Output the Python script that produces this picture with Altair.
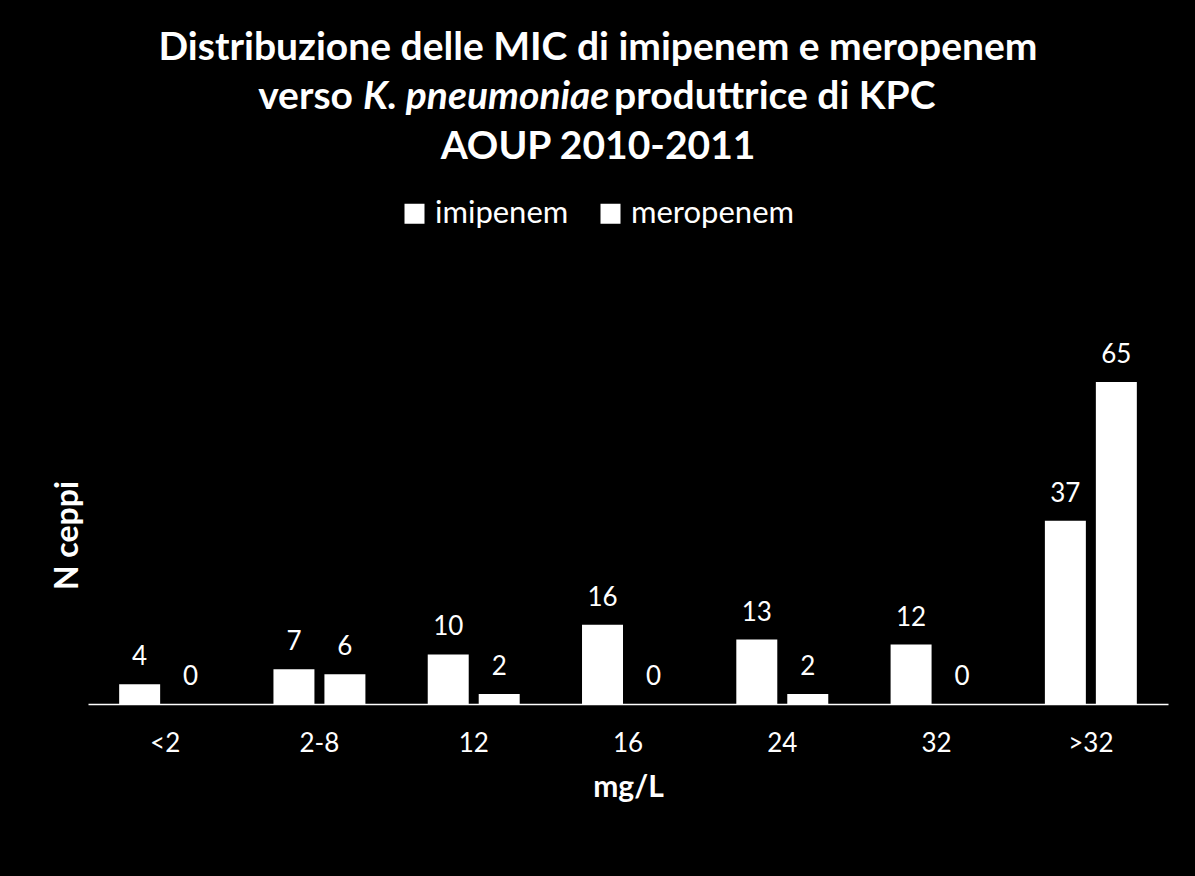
import altair as alt
import pandas as pd

categories = ["<2", "2-8", "12", "16", "24", "32", ">32"]
series = ["imipenem", "meropenem"]
imipenem = [4, 7, 10, 16, 13, 12, 37]
meropenem = [0, 6, 2, 0, 2, 0, 65]

title_line1 = "Distribuzione delle MIC di imipenem e meropenem"
title_line2a = "verso"
title_line2b = "K. pneumoniae"
title_line2c = "produttrice di KPC"
title_line3 = "AOUP 2010-2011"

FONT = "Lato"

rows = []
for i, c in enumerate(categories):
    rows.append({"cat": c, "series": "imipenem", "value": imipenem[i]})
    rows.append({"cat": c, "series": "meropenem", "value": meropenem[i]})
df = pd.DataFrame(rows)

W, H = 1080, 322

x = alt.X("cat:N", sort=categories, title="mg/L",
          scale=alt.Scale(paddingInner=0.404, paddingOuter=0.202),
          axis=alt.Axis(labelAngle=0, labelFontSize=26, labelColor="white", labelFont=FONT,
                        domainColor="white", domainWidth=1.5, ticks=False, labelPadding=26,
                        titleFontSize=30, titleFont=FONT, titleFontWeight="bold",
                        titleColor="white", titlePadding=16))
xo = alt.XOffset("series:N", sort=series, scale=alt.Scale(paddingInner=0.196))
y = alt.Y("value:Q", title="N ceppi", scale=alt.Scale(domain=[0, 65], nice=False),
          axis=alt.Axis(labels=False, ticks=False, domain=False, grid=False,
                        titleFontSize=32, titleFont=FONT, titleFontWeight="bold",
                        titleColor="white", titlePadding=4, titleY=153))
color = alt.Color("series:N", sort=series,
                  scale=alt.Scale(domain=series, range=["white", "white"]),
                  legend=alt.Legend(title=None, orient="none", direction="horizontal",
                                    legendX=311, legendY=-184, symbolType="square",
                                    symbolSize=400, symbolStrokeWidth=0, labelFontSize=31,
                                    labelFont=FONT, labelColor="white", columnPadding=26,
                                    labelOffset=5, labelLimit=0, symbolOpacity=1))

bars = alt.Chart(df).mark_bar(opacity=1).encode(x=x, xOffset=xo, y=y, color=color)
labels = alt.Chart(df).mark_text(dy=-19, baseline="alphabetic", fontSize=26, font=FONT,
                                 color="white").encode(
    x=alt.X("cat:N", sort=categories), xOffset=alt.XOffset("series:N", sort=series),
    y="value:Q", text="value:Q")

tdf = pd.DataFrame({"t": [0]})
def ttext(txt, xv, yv, align="center", italic=False):
    return alt.Chart(tdf).mark_text(text=txt, align=align, baseline="middle", fontSize=39,
                                    font=FONT, fontWeight="bold", color="white",
                                    fontStyle="italic" if italic else "normal").encode(
        x=alt.value(xv), y=alt.value(yv))

t1 = ttext(title_line1, 510, -334)
t2a = ttext(title_line2a, 265, -285, align="right")
t2b = ttext(title_line2b, 275, -285, align="left", italic=True)
t2c = ttext(title_line2c, 526, -285, align="left")
t3 = ttext(title_line3, 510, -235)

chart = alt.layer(bars, labels, t1, t2a, t2b, t2c, t3).properties(
    width=W, height=H, autosize="none",
    padding={"left": 88, "top": 382, "right": 27, "bottom": 172}
).configure(background="black").configure_view(stroke=None)

chart.save("out.html", embed_options={"renderer": "svg", "actions": False})
